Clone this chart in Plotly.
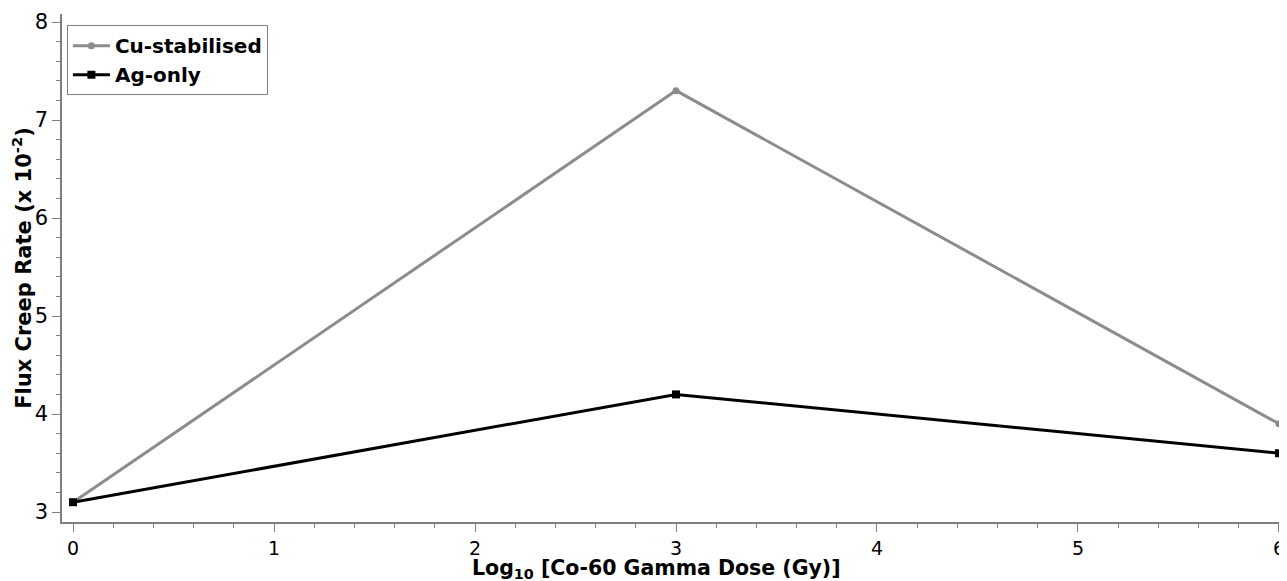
import plotly.graph_objects as go

doses = [0, 3, 6]
cu_values = [3.1, 7.3, 3.9]
ag_values = [3.1, 4.2, 3.6]
x_ticks = [0, 1, 2, 3, 4, 5, 6]
y_ticks = [3, 4, 5, 6, 7, 8]
x_title = "<b>Log<sub>10</sub> [Co-60 Gamma Dose (Gy)]</b>"
y_title = "<b>Flux Creep Rate (x 10<sup>-2</sup>)</b>"

fig = go.Figure()
fig.add_trace(go.Scatter(x=doses, y=cu_values, mode="lines+markers", name="<b>Cu-stabilised</b>",
                         line=dict(color="#8c8c8c", width=3),
                         marker=dict(symbol="circle", size=7, color="#8c8c8c")))
fig.add_trace(go.Scatter(x=doses, y=ag_values, mode="lines+markers", name="<b>Ag-only</b>",
                         line=dict(color="#000000", width=3),
                         marker=dict(symbol="square", size=8, color="#000000")))

axis_common = dict(showline=True, linecolor="#7f7f7f", linewidth=1.5, showgrid=False,
                   zeroline=False, ticks="outside", ticklen=8, tickcolor="#7f7f7f", tickwidth=1,
                   mirror=False, automargin=False)

fig.update_layout(
    width=1279, height=573,
    margin=dict(l=54, r=0, t=6, b=59),
    paper_bgcolor="white", plot_bgcolor="white",
    font=dict(family="DejaVu Sans", color="#000"),
    xaxis=dict(range=[-0.055, 6.04], tickvals=x_ticks,
               tickfont=dict(family="DejaVu Sans", size=19, color="#000"),
               minor=dict(dtick=0.2, tick0=0, ticks="outside", ticklen=4, tickcolor="#7f7f7f"),
               **axis_common),
    yaxis=dict(range=[2.898, 8.082], tickvals=y_ticks,
               tickfont=dict(family="DejaVu Sans", size=21, color="#000"),
               title=dict(text=y_title, font=dict(family="DejaVu Sans", size=21), standoff=2),
               minor=dict(dtick=0.2, tick0=0, ticks="outside", ticklen=4, tickcolor="#7f7f7f"),
               **axis_common),
    legend=dict(x=0.004, y=0.978, xanchor="left", yanchor="top",
                bordercolor="#7f7f7f", borderwidth=1, bgcolor="white",
                font=dict(family="DejaVu Sans", size=20, color="#000"),
                itemwidth=37, tracegroupgap=0),
    showlegend=True,
    annotations=[dict(text=x_title, xref="paper", yref="paper", x=0.4857, y=-0.0935,
                      xanchor="center", yanchor="middle", showarrow=False,
                      font=dict(family="DejaVu Sans", size=20.5, color="#000"))],
)

fig.write_html("out.html")
